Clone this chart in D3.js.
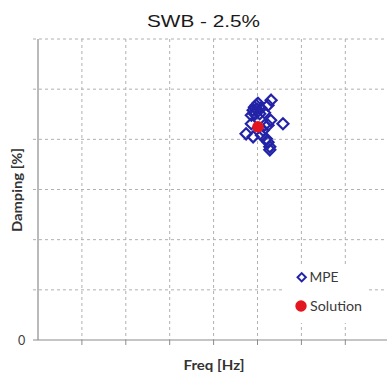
<!DOCTYPE html>
<html>
<head>
<meta charset="utf-8">
<script src="https://cdn.jsdelivr.net/npm/d3@7"></script>
<style>
  html, body { margin: 0; padding: 0; background: #fff; }
  svg { display: block; }
</style>
</head>
<body>
<svg id="chart" width="387" height="374"></svg>
<script>
// Modal estimates (MPE) and the chosen solution for the SWB mode
const mpeFreq = [5.31, 5.24, 5.16, 5.30, 5.58, 4.74, 4.90, 5.09, 5.20, 5.24, 5.28, 5.13, 5.24,
                 4.97, 4.90, 5.05, 4.86, 4.99, 4.94, 5.08, 4.86, 5.16, 5.28, 5.01, 4.93];
const mpeDamp = [4.78, 4.68, 4.53, 4.38, 4.31, 4.11, 4.05, 4.08, 4.01, 3.94, 3.85, 4.18, 4.28,
                 4.68, 4.58, 4.51, 4.48, 4.60, 4.50, 4.62, 4.31, 4.28, 3.79, 4.72, 4.64];
const solutionFreq = [5.01];
const solutionDamp = [4.25];

const freqTicks = [1, 2, 3, 4, 5, 6, 7, 8];
const dampTicks = [1, 2, 3, 4, 5, 6];
const dampTickLabels = ["0"];
const legendItems = ["MPE", "Solution"];

const svg = d3.select("#chart");

const x = d3.scaleLinear().domain([0, 8]).range([38, 389.2]);
const y = d3.scaleLinear().domain([0, 6]).range([340, 39]);

const gridColor = "#b0b0b0";
const axisColor = "#8c8c8c";
const mpeColor = "#2323a8";

// dashed grid
const grid = svg.append("g");
grid.selectAll("line.v").data(freqTicks).join("line")
  .attr("x1", d => x(d)).attr("x2", d => x(d))
  .attr("y1", y(6)).attr("y2", y(0))
  .attr("stroke", gridColor).attr("stroke-width", 1)
  .attr("stroke-dasharray", "3,3");
grid.selectAll("line.h").data(dampTicks).join("line")
  .attr("x1", x(0) - 5).attr("x2", 387)
  .attr("y1", d => y(d)).attr("y2", d => y(d))
  .attr("stroke", gridColor).attr("stroke-width", 1)
  .attr("stroke-dasharray", "3,3");

// tick marks below the frequency axis
grid.selectAll("line.t").data(freqTicks).join("line")
  .attr("x1", d => x(d)).attr("x2", d => x(d))
  .attr("y1", y(0)).attr("y2", y(0) + 5)
  .attr("stroke", axisColor).attr("stroke-width", 1);

// axes
svg.append("line")
  .attr("x1", x(0)).attr("x2", x(0)).attr("y1", y(6)).attr("y2", y(0))
  .attr("stroke", axisColor).attr("stroke-width", 1.2);
svg.append("line")
  .attr("x1", x(0) - 5).attr("x2", 387).attr("y1", y(0)).attr("y2", y(0))
  .attr("stroke", axisColor).attr("stroke-width", 1.2);

svg.selectAll("text.ytick").data(dampTickLabels).join("text")
  .attr("x", 21.5).attr("y", y(0) + 4.5)
  .attr("text-anchor", "middle")
  .attr("font-family", "Lato, 'Open Sans', sans-serif")
  .attr("font-size", 12.5).attr("fill", "#404040")
  .text(d => d);

// legend box (covers the grid)
const legend = svg.append("g");
legend.append("rect")
  .attr("x", 285).attr("y", 264).attr("width", 82).attr("height", 59)
  .attr("fill", "#fff");

const diamond = d3.symbol().type(d3.symbolDiamond2).size(78);

// MPE markers
svg.append("g").selectAll("path").data(mpeFreq).join("path")
  .attr("d", diamond)
  .attr("transform", (d, i) => `translate(${x(d)},${y(mpeDamp[i])})`)
  .attr("fill", "none")
  .attr("stroke", mpeColor)
  .attr("stroke-width", 2.2);

// solution
svg.append("g").selectAll("circle").data(solutionFreq).join("circle")
  .attr("cx", d => x(d))
  .attr("cy", (d, i) => y(solutionDamp[i]))
  .attr("r", 5.8)
  .attr("fill", "#e3151f");

// legend entries
legend.append("path")
  .attr("d", d3.symbol().type(d3.symbolDiamond2).size(44))
  .attr("transform", "translate(301.7,277.3)")
  .attr("fill", "none").attr("stroke", mpeColor).attr("stroke-width", 2);
legend.append("circle")
  .attr("cx", 301).attr("cy", 306).attr("r", 5.7).attr("fill", "#e3151f");
legend.selectAll("text").data(legendItems).join("text")
  .attr("x", (d, i) => i === 0 ? 309.5 : 310)
  .attr("y", (d, i) => i === 0 ? 281.5 : 310.5)
  .attr("font-family", "Lato, 'Open Sans', sans-serif")
  .attr("font-size", 13.5).attr("fill", "#3a3a3a")
  .attr("textLength", (d, i) => i === 0 ? 29 : 52)
  .attr("lengthAdjust", "spacingAndGlyphs")
  .text(d => d);

// title
svg.append("text")
  .attr("x", 147).attr("y", 27)
  .attr("font-family", "'Liberation Sans', Arial, sans-serif")
  .attr("font-size", 17).attr("fill", "#1a1a1a")
  .attr("textLength", 113).attr("lengthAdjust", "spacingAndGlyphs")
  .text("SWB - 2.5%");

// axis titles
svg.append("text")
  .attr("x", 183.5).attr("y", 370)
  .attr("font-family", "Lato, 'Open Sans', sans-serif")
  .attr("font-weight", "bold").attr("font-size", 13.5).attr("fill", "#333")
  .attr("textLength", 61).attr("lengthAdjust", "spacingAndGlyphs")
  .text("Freq [Hz]");

svg.append("text")
  .attr("transform", "translate(22,190) rotate(-90)")
  .attr("text-anchor", "middle")
  .attr("font-family", "Lato, 'Open Sans', sans-serif")
  .attr("font-weight", "bold").attr("font-size", 13).attr("fill", "#333")
  .attr("textLength", 84).attr("lengthAdjust", "spacingAndGlyphs")
  .text("Damping [%]");
</script>
</body>
</html>
